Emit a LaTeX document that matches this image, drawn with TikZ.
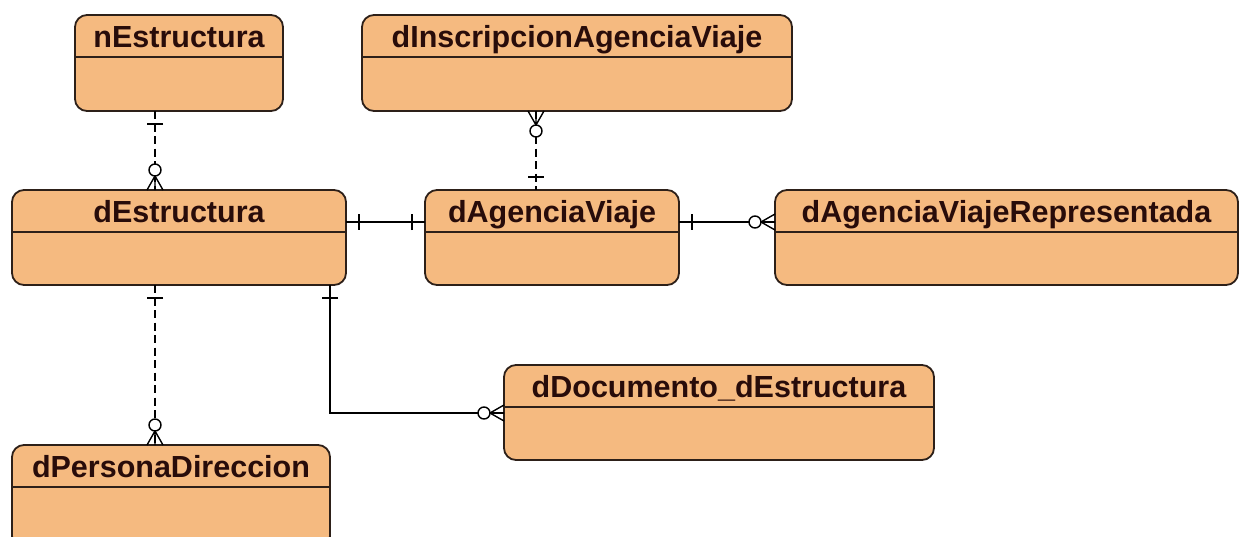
\documentclass[tikz,border=0pt]{standalone}
\usepackage{fontspec}
\setmainfont{Liberation Sans}
\usetikzlibrary{calc}
\definecolor{entfill}{RGB}{245,186,128}
\definecolor{entline}{RGB}{45,32,25}
\definecolor{txtcol}{RGB}{40,12,10}
\tikzset{
  ent/.style={draw=entline, fill=entfill, line width=1.8pt, rounded corners=12pt, anchor=north west, inner sep=0pt, outer sep=0pt},
  ttl/.style={font=\fontsize{30.5}{34}\selectfont\bfseries, text=txtcol, inner sep=0pt, anchor=base},
  hdr/.style={draw=entline, line width=1.5pt},
  conn/.style={draw=black, line width=1.4pt},
  dconn/.style={conn, dash pattern=on 8pt off 4.5pt},
  mk/.style={draw=black, line width=1.4pt, solid},
  onemk/.pic={\draw[mk] (13,-8) -- (13,8);},
  manymk/.pic={\draw[mk] (0,-8) -- (14,0) -- (0,8) (0,0) -- (14,0); \draw[mk,fill=white] (20,0) circle (6pt);}
}
\newcommand{\entity}[6]{%
  \node[ent, minimum width={#4-#2}, minimum height={#5-#3}] (#1) at (#2,#3) {};
  \draw[hdr] ($(#1.north west)+(0,42)$) -- ($(#1.north east)+(0,42)$);
  \node[ttl] (#1-t) at ($(#1.north)+(0,32)$) {#6};
}
\begin{document}
\begin{tikzpicture}[x=1pt,y=-1pt]
\useasboundingbox[fill=white] (0,0) rectangle (1243,536);
\entity{nE}{75}{15}{283}{111}{nEstructura}
\entity{dI}{362}{15}{792}{111}{dInscripcionAgenciaViaje}
\entity{dE}{12}{190}{346}{285}{dEstructura}
\entity{dAV}{425}{190}{679}{285}{dAgenciaViaje}
\entity{dAVR}{775}{190}{1238}{285}{dAgenciaViajeRepresentada}
\entity{dDoc}{504}{365}{934}{460}{dDocumento\_dEstructura}
\entity{dP}{12}{445}{330}{548}{dPersonaDireccion}
% coordinates
\coordinate (a1) at ($(nE.south west)+(80,0)$);
\coordinate (a2) at (a1 |- dE.north);
\coordinate (b1) at ($(dI.south west)+(174,0)$);
\coordinate (b2) at (b1 |- dAV.north);
\coordinate (c1) at ($(dE.north east)+(0,32)$);
\coordinate (c2) at (c1 -| dAV.west);
\coordinate (d1) at (c1 -| dAV.east);
\coordinate (d2) at (c1 -| dAVR.west);
\coordinate (e1) at (a1 |- dE.south);
\coordinate (e2) at (a1 |- dP.north);
\coordinate (f1) at ($(dE.south west)+(318,0)$);
\coordinate (f2) at ($(dDoc.north west)+(0,48)$);
% connectors
\draw[dconn] (a1) -- (a2);
\draw[dconn] (b1) -- (b2);
\draw[conn] (c1) -- (c2);
\draw[conn] (d1) -- (d2);
\draw[dconn] (e1) -- (e2);
\draw[conn] (f1) |- (f2);
% marks
\pic[rotate=-90] at (a1) {onemk};
\pic[rotate=90] at (a2) {manymk};
\pic[rotate=-90] at (b1) {manymk};
\pic[rotate=90] at (b2) {onemk};
\pic at (c1) {onemk};
\pic[rotate=180] at (c2) {onemk};
\pic at (d1) {onemk};
\pic[rotate=180] at (d2) {manymk};
\pic[rotate=-90] at (e1) {onemk};
\pic[rotate=90] at (e2) {manymk};
\pic[rotate=-90] at (f1) {onemk};
\pic[rotate=180] at (f2) {manymk};
\end{tikzpicture}
\end{document}
